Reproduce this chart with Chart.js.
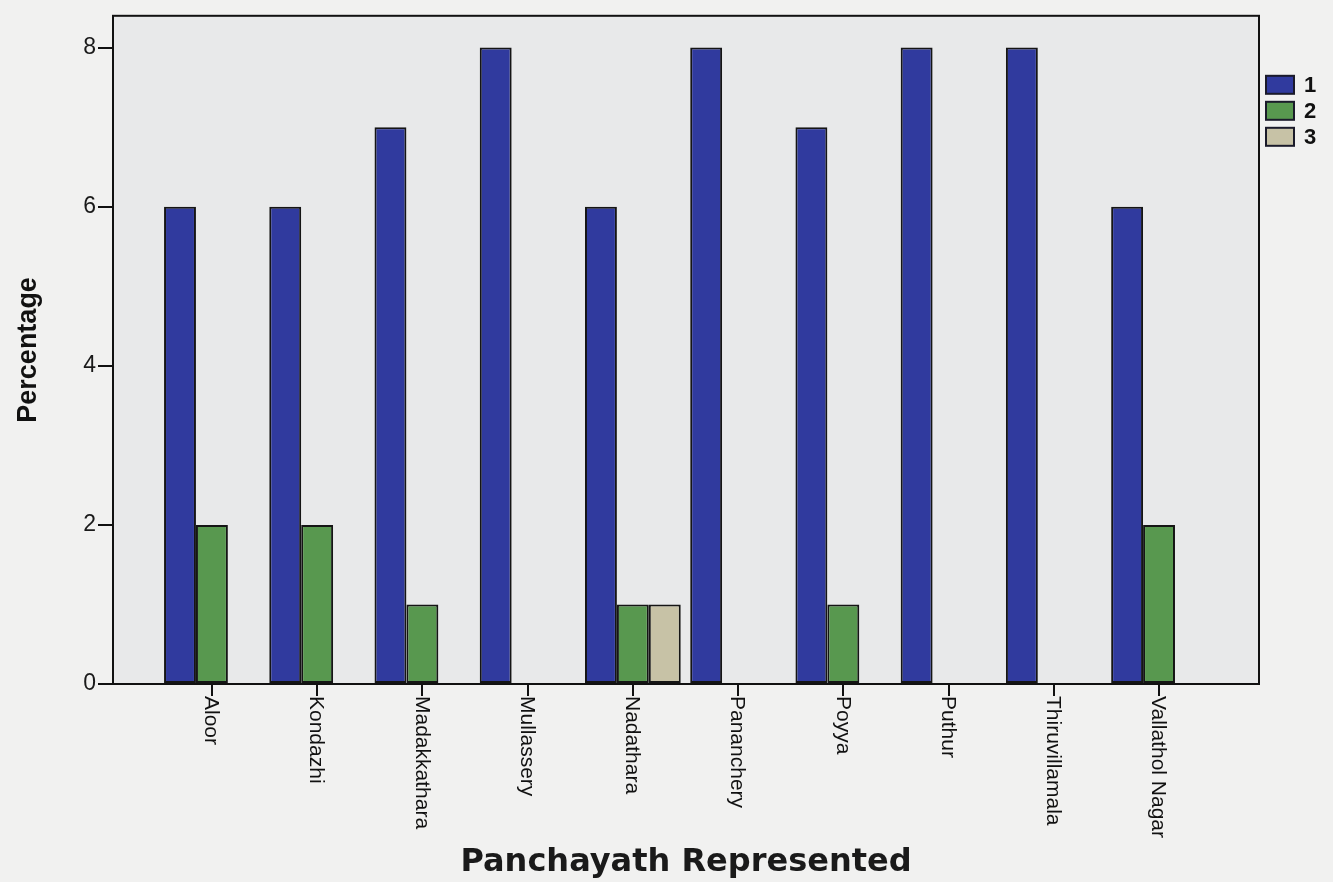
<!DOCTYPE html>
<html>
<head>
<meta charset="utf-8">
<script src="https://cdn.jsdelivr.net/npm/chart.js@4/dist/chart.umd.min.js"></script>
<style>
  html, body { margin: 0; padding: 0; background: #f1f1f0; }
  #wrap { width: 1333px; height: 882px; position: relative; }
</style>
</head>
<body>
<div id="wrap"><canvas id="c" width="1333" height="882"></canvas></div>
<script>
// Panchayaths on the category axis
const panchayaths = ['Aloor', 'Kondazhi', 'Madakkathara', 'Mullassery', 'Nadathara',
                     'Pananchery', 'Poyya', 'Puthur', 'Thiruvillamala', 'Vallathol Nagar'];
// Percentage per panchayath for each group
const group1 = [6, 6, 7, 8, 6, 8, 7, 8, 8, 6];
const group2 = [2, 2, 1, null, 1, null, 1, null, null, 2];
const group3 = [null, null, null, null, 1, null, null, null, null, null];
const groupNames = ['1', '2', '3'];
const yTickValues = [0, 2, 4, 6, 8];

const toPoints = arr => arr.map((v, i) => ({ x: i, y: v }));

// Light plotting area behind the bars
const plotBackground = {
  id: 'plotBackground',
  beforeDatasetsDraw(chart) {
    const { ctx, chartArea: a } = chart;
    ctx.save();
    ctx.fillStyle = '#e8e9ea';
    ctx.fillRect(a.left, a.top, a.right - a.left, a.bottom - a.top);
    ctx.restore();
  }
};

// Closed frame around the plotting area
const frame = {
  id: 'frame',
  afterDraw(chart) {
    const { ctx, chartArea: a } = chart;
    ctx.save();
    ctx.strokeStyle = '#111';
    ctx.lineWidth = 2;
    ctx.strokeRect(a.left, a.top, a.right - a.left, a.bottom - a.top);
    ctx.restore();
  }
};

// Category names written downwards under each tick
const downLabels = {
  id: 'downLabels',
  afterDraw(chart) {
    const { ctx } = chart;
    const xs = chart.scales.x;
    ctx.save();
    ctx.fillStyle = '#111';
    ctx.font = '21px "Liberation Sans", Arial, sans-serif';
    ctx.textAlign = 'left';
    ctx.textBaseline = 'middle';
    xs.ticks.forEach(t => {
      const name = panchayaths[t.value];
      if (name === undefined) return;
      const x = xs.getPixelForValue(t.value);
      ctx.save();
      ctx.translate(x - 1, xs.top + 12);
      ctx.rotate(Math.PI / 2);
      ctx.fillText(name, 0, 0);
      ctx.restore();
    });
    ctx.restore();
  }
};

// Legend to the right of the frame
const sideLegend = {
  id: 'sideLegend',
  afterDraw(chart) {
    const { ctx, chartArea: a } = chart;
    ctx.save();
    ctx.font = 'bold 22px "Liberation Sans", Arial, sans-serif';
    ctx.textBaseline = 'middle';
    ctx.textAlign = 'left';
    chart.data.datasets.forEach((ds, i) => {
      const x = a.right + 7;
      const y = a.top + 60 + i * 26;
      ctx.fillStyle = ds.backgroundColor;
      ctx.fillRect(x, y, 28, 18);
      ctx.strokeStyle = '#1a1a2a';
      ctx.lineWidth = 2;
      ctx.strokeRect(x, y, 28, 18);
      ctx.fillStyle = '#111';
      ctx.fillText(ds.label, x + 38, y + 10);
    });
    ctx.restore();
  }
};

const barStyle = { borderColor: '#151515', borderWidth: 2, borderSkipped: false,
                   categoryPercentage: 0.91, barPercentage: 1.0 };

new Chart(document.getElementById('c'), {
  type: 'bar',
  data: {
    datasets: [
      Object.assign({ label: groupNames[0], data: toPoints(group1), backgroundColor: '#303a9e' }, barStyle),
      Object.assign({ label: groupNames[1], data: toPoints(group2), backgroundColor: '#58984f' }, barStyle),
      Object.assign({ label: groupNames[2], data: toPoints(group3), backgroundColor: '#c7c2a6' }, barStyle)
    ]
  },
  options: {
    responsive: false,
    animation: false,
    devicePixelRatio: 1,
    layout: { padding: { top: 12, right: 74, left: 0, bottom: 0 } },
    plugins: { legend: { display: false }, tooltip: { enabled: false } },
    scales: {
      x: {
        type: 'linear',
        min: -0.94,
        max: 9.95,
        offset: false,
        afterBuildTicks: s => { s.ticks = panchayaths.map((_, i) => ({ value: i })); },
        afterFit: s => { s.height = 198; },
        ticks: { display: false, autoSkip: false },
        grid: { offset: false, drawOnChartArea: false, drawTicks: true, tickLength: 12, color: '#111', lineWidth: 2 },
        border: { display: true, color: '#111', width: 2 },
        title: {
          display: true,
          text: 'Panchayath Represented',
          color: '#1a1a1a',
          font: { family: '"DejaVu Sans", Verdana, sans-serif', weight: 'bold', size: 32 },
          padding: { top: 0, bottom: 0 }
        }
      },
      y: {
        min: 0,
        max: 8.4,
        afterBuildTicks: s => { s.ticks = yTickValues.map(v => ({ value: v })); },
        afterFit: s => { s.width = 113; },
        ticks: {
          color: '#1a1a1a',
          padding: 2,
          font: { family: '"Liberation Sans", Arial, sans-serif', size: 23 }
        },
        grid: { drawOnChartArea: false, drawTicks: true, tickLength: 15, color: '#111', lineWidth: 2 },
        border: { display: true, color: '#111', width: 2 },
        title: {
          display: true,
          text: 'Percentage',
          color: '#111',
          font: { family: '"Liberation Sans", Arial, sans-serif', weight: 'bold', size: 27 },
          padding: { top: 12, bottom: 0 }
        }
      }
    }
  },
  plugins: [plotBackground, frame, downLabels, sideLegend]
});
</script>
</body>
</html>
